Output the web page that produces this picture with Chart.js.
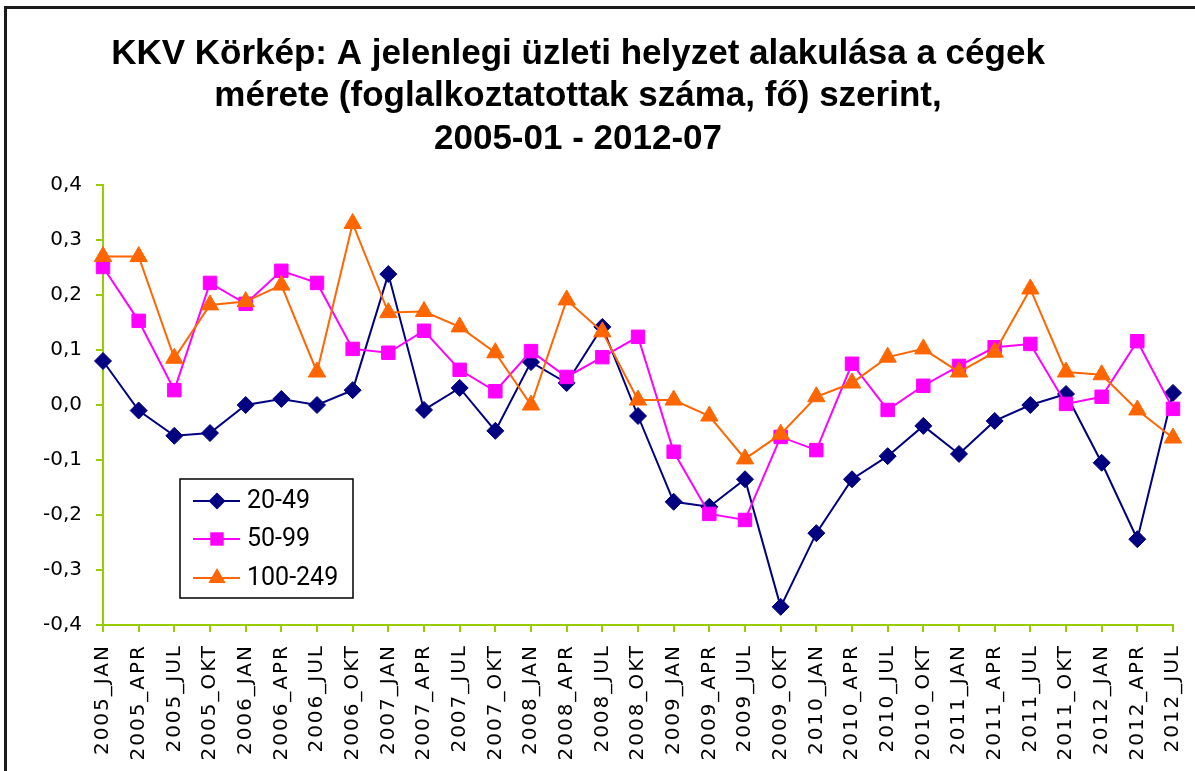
<!DOCTYPE html>
<html>
<head>
<meta charset="utf-8">
<script src="https://cdn.jsdelivr.net/npm/chart.js@4.4.0/dist/chart.umd.min.js"></script>
<style>
  html, body { margin: 0; padding: 0; background: #fff; overflow: hidden; }
  #wrap { position: relative; width: 1195px; height: 771px; overflow: hidden; }
  #chart { position: absolute; left: -17px; top: 0; }
  #frame {
    position: absolute; left: 4px; top: 6px; right: -10px; bottom: -10px;
    border-top: 3px solid #1a1a1a; border-left: 3px solid #1a1a1a;
    pointer-events: none;
  }
</style>
</head>
<body>
<div id="wrap">
  <canvas id="chart" width="1212" height="771"></canvas>
  <div id="frame"></div>
</div>
<script>
// --- Data ---
const categories = [
  '2005_JAN', '2005_APR', '2005_JUL', '2005_OKT',
  '2006_JAN', '2006_APR', '2006_JUL', '2006_OKT',
  '2007_JAN', '2007_APR', '2007_JUL', '2007_OKT',
  '2008_JAN', '2008_APR', '2008_JUL', '2008_OKT',
  '2009_JAN', '2009_APR', '2009_JUL', '2009_OKT',
  '2010_JAN', '2010_APR', '2010_JUL', '2010_OKT',
  '2011_JAN', '2011_APR', '2011_JUL', '2011_OKT',
  '2012_JAN', '2012_APR', '2012_JUL'
];
const seriesNames = ['20-49', '50-99', '100-249'];
const s2049 = [0.08, -0.01, -0.056, -0.051, 0.0, 0.011, 0.0, 0.027, 0.238, -0.009, 0.031, -0.047,
  0.078, 0.04, 0.142, -0.02, -0.176, -0.185, -0.135, -0.367, -0.233, -0.135, -0.093, -0.038,
  -0.089, -0.029, 0.0, 0.02, -0.105, -0.244, 0.022];
const s5099 = [0.251, 0.153, 0.027, 0.222, 0.184, 0.244, 0.222, 0.102, 0.095, 0.135, 0.064, 0.025,
  0.098, 0.051, 0.087, 0.124, -0.085, -0.198, -0.209, -0.058, -0.082, 0.075, -0.009, 0.035,
  0.071, 0.105, 0.111, 0.002, 0.015, 0.116, -0.007];
const s100249 = [0.27, 0.27, 0.085, 0.182, 0.188, 0.218, 0.06, 0.33, 0.168, 0.17, 0.142, 0.095,
  0.0, 0.191, 0.133, 0.009, 0.009, -0.02, -0.098, -0.053, 0.015, 0.04, 0.087, 0.102,
  0.06, 0.096, 0.211, 0.06, 0.055, -0.009, -0.06];
const yMin = -0.4, yMax = 0.4, yStep = 0.1;
const titleLines = [
  'KKV Körkép: A jelenlegi üzleti helyzet alakulása a cégek',
  'mérete (foglalkoztatottak száma, fő) szerint,',
  '2005-01 - 2012-07'
];

// --- Styles ---
const NAVY = '#000080', MAGENTA = '#ff00ff', ORANGE = '#ff6600', AXIS = '#99cc00';
const styles = [
  { color: NAVY, point: 'rectRot', radius: 8.5, order: 3 },
  { color: MAGENTA, point: 'rect', radius: 9.5, order: 2 },
  { color: ORANGE, point: 'triangle', radius: 10, order: 1 }
];
const seriesData = [s2049, s5099, s100249];

const datasets = seriesNames.map((name, i) => ({
  label: name,
  data: seriesData[i],
  borderColor: styles[i].color,
  backgroundColor: styles[i].color,
  borderWidth: 2,
  pointStyle: styles[i].point,
  pointRadius: styles[i].radius,
  pointBackgroundColor: styles[i].color,
  pointBorderColor: styles[i].color,
  pointBorderWidth: 1,
  tension: 0,
  clip: false,
  order: styles[i].order
}));

// letter spaced x labels, like the original
const spacedLabels = {
  id: 'spacedLabels',
  beforeDraw(chart) {
    const s = chart.scales.x;
    if (s && !s.__spaced) {
      const orig = s.drawLabels;
      s.drawLabels = function (area) {
        const c = this.ctx;
        c.save();
        c.letterSpacing = '2px';
        orig.call(this, area);
        c.restore();
      };
      s.__spaced = true;
    }
  }
};

// legend box inside the plot area
function drawMarker(ctx, type, x, y, r) {
  ctx.beginPath();
  if (type === 'rectRot') {
    ctx.moveTo(x, y - r); ctx.lineTo(x + r, y); ctx.lineTo(x, y + r); ctx.lineTo(x - r, y);
  } else if (type === 'rect') {
    const h = r * Math.SQRT1_2;
    ctx.rect(x - h, y - h, 2 * h, 2 * h);
  } else {
    const w = r * Math.sqrt(3) / 2;
    ctx.moveTo(x, y - r); ctx.lineTo(x + w, y + r / 2); ctx.lineTo(x - w, y + r / 2);
  }
  ctx.closePath();
  ctx.fill();
}

const boxLegend = {
  id: 'boxLegend',
  afterDraw(chart) {
    const ctx = chart.ctx;
    const a = chart.chartArea;
    const bx = a.left + 77, by = a.top + 294, bw = 173, bh = 119;
    ctx.save();
    ctx.fillStyle = '#fff';
    ctx.fillRect(bx, by, bw, bh);
    ctx.strokeStyle = '#000';
    ctx.lineWidth = 1.5;
    ctx.strokeRect(bx, by, bw, bh);
    const rows = [22, 60, 99];
    chart.data.datasets.forEach((ds, i) => {
      const y = by + rows[i];
      ctx.strokeStyle = ds.borderColor;
      ctx.lineWidth = 2;
      ctx.beginPath();
      ctx.moveTo(bx + 13, y);
      ctx.lineTo(bx + 60, y);
      ctx.stroke();
      ctx.fillStyle = ds.borderColor;
      drawMarker(ctx, ds.pointStyle, bx + 37, y, ds.pointRadius);
      ctx.fillStyle = '#000';
      ctx.font = '25px Roboto';
      ctx.textBaseline = 'middle';
      ctx.textAlign = 'left';
      ctx.fillText(ds.label, bx + 67, y + 1);
    });
    ctx.restore();
  }
};

const chart = new Chart(document.getElementById('chart'), {
  type: 'line',
  data: { labels: categories, datasets },
  options: {
    responsive: false,
    animation: false,
    devicePixelRatio: 1,
    layout: { padding: { left: 0, right: 22, top: 0, bottom: 0 } },
    plugins: {
      legend: { display: false },
      tooltip: { enabled: false },
      title: {
        display: true,
        text: titleLines,
        color: '#000',
        font: { family: '"Liberation Sans", Arial, sans-serif', size: 35, weight: 'bold', lineHeight: 42.5 / 35 },
        padding: { top: 33, bottom: 24.5 }
      }
    },
    scales: {
      x: {
        type: 'category',
        offset: false,
        afterFit(scale) {
          scale.height = 146;
          scale.paddingLeft = 0;
          scale.paddingRight = 0;
        },
        border: { display: true, color: AXIS, width: 2 },
        grid: { display: true, drawOnChartArea: false, drawTicks: true, tickLength: 7, color: AXIS, lineWidth: 2 },
        ticks: {
          autoSkip: false,
          minRotation: 90,
          maxRotation: 90,
          padding: 12,
          color: '#000',
          font: { family: '"DejaVu Sans", Verdana, sans-serif', size: 20 }
        }
      },
      y: {
        min: yMin,
        max: yMax,
        afterFit(scale) { scale.width = 120; },
        border: { display: true, color: AXIS, width: 2 },
        grid: { display: true, drawOnChartArea: false, drawTicks: true, tickLength: 7, color: AXIS, lineWidth: 2 },
        ticks: {
          stepSize: yStep,
          padding: 14,
          color: '#000',
          font: { family: '"DejaVu Sans", Verdana, sans-serif', size: 20 },
          callback: v => v.toFixed(1).replace('.', ',').replace('-0,0', '0,0')
        }
      }
    }
  },
  plugins: [spacedLabels, boxLegend]
});
</script>
</body>
</html>
